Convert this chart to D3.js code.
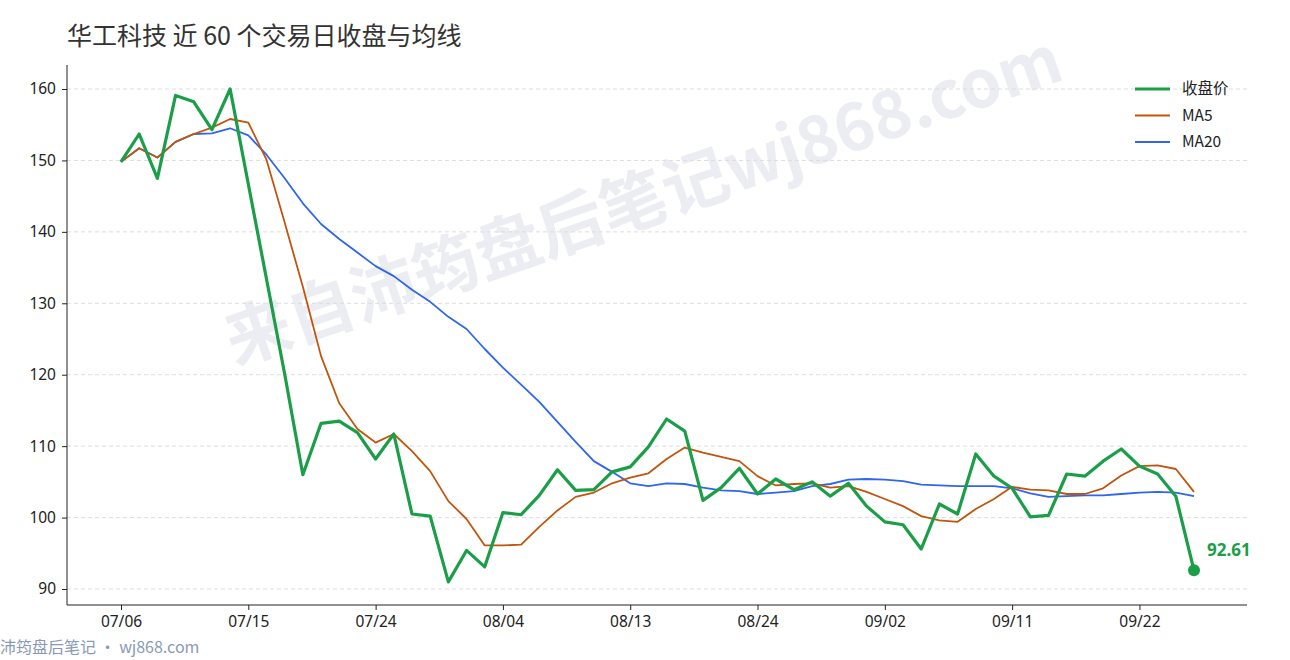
<!DOCTYPE html>
<html><head><meta charset="utf-8">
<script src="https://cdn.jsdelivr.net/npm/d3@7"></script>
<style>body{margin:0;background:#fff;font-family:"Noto Sans CJK SC","Noto Sans",sans-serif}</style>
</head><body><svg id="c" width="1290" height="660"></svg>
<script>
// category labels (one per trading day)
const dates = ["07/06","07/07","07/08","07/10","07/11","07/13","07/14","07/15",
  "07/16","07/17","07/18","07/20","07/21","07/22","07/24",
  "07/25","07/27","07/28","07/30","07/31","08/02","08/04",
  "08/05","08/06","08/08","08/09","08/10","08/12","08/13",
  "08/14","08/16","08/17","08/19","08/20","08/22","08/24",
  "08/25","08/26","08/27","08/29","08/30","08/31","09/02",
  "09/03","09/04","09/05","09/07","09/08","09/09","09/11",
  "09/12","09/14","09/15","09/17","09/18","09/19","09/22",
  "09/23","09/24","09/25"];
const closes = [149.8,153.7,147.5,159.1,158.2,154.3,160.0,146.7,133.4,120.1,
  106.0,113.2,113.5,111.9,108.2,111.7,100.5,100.2,91.0,95.4,
  93.1,100.7,100.4,103.1,106.7,103.8,103.9,106.4,107.1,109.9,
  113.8,112.1,102.4,104.2,106.9,103.3,105.4,103.9,105.0,103.0,
  104.8,101.6,99.4,99.0,95.6,101.9,100.5,108.9,105.8,104.1,
  100.1,100.3,106.1,105.8,107.9,109.6,107.2,106.1,103.0,92.61];
const ma5 = [149.8,151.7,150.4,152.6,153.7,154.6,155.8,155.3,150.1,141.3,
  132.3,122.6,116.0,112.4,110.5,111.7,109.3,106.5,102.3,99.8,
  96.1,96.1,96.2,98.7,101.0,102.9,103.5,104.8,105.6,106.2,
  108.2,109.8,109.1,108.5,107.9,105.8,104.5,104.7,104.8,104.2,
  104.4,103.6,102.6,101.6,100.2,99.6,99.4,101.2,102.6,104.3,
  103.9,103.8,103.3,103.3,104.1,105.9,107.2,107.3,106.8,103.6];
const ma20 = [149.8,151.7,150.4,152.6,153.7,153.8,154.5,153.5,150.8,147.5,
  144.0,141.1,139.0,137.1,135.2,133.8,131.9,130.2,128.1,126.4,
  123.6,121.0,118.6,116.2,113.4,110.6,107.9,106.4,104.8,104.4,
  104.8,104.7,104.2,103.8,103.7,103.3,103.5,103.7,104.4,104.7,
  105.3,105.4,105.3,105.1,104.6,104.5,104.4,104.4,104.4,104.1,
  103.4,102.9,103.0,103.1,103.1,103.3,103.5,103.6,103.5,103.0];
const yTicks = [90,100,110,120,130,140,150,160];
const tickIdx = [0,7,14,21,28,35,42,49,56];

const svg = d3.select("#c");
const pLeft = 67, pRight = 1247, pTop = 65, pBottom = 605;
const x = d3.scaleLinear().domain([0, dates.length - 1]).range([121, 1194]);
const y = d3.scaleLinear().domain([90, 160]).range([589, 89]);

// watermark
svg.append("text").attr("transform", "translate(645,205) rotate(-19)")
  .attr("text-anchor", "middle").attr("dominant-baseline", "middle")
  .style("font-size", "66px").style("font-weight", "bold").style("fill", "#e6e8ee")
  .style("opacity", 0.75).text("来自沛筠盘后笔记wj868.com");

// grid
svg.selectAll("line.grid").data(yTicks).enter().append("line")
  .attr("x1", pLeft).attr("x2", pRight).attr("y1", d => y(d)).attr("y2", d => y(d))
  .style("stroke", "#ddd").style("stroke-dasharray", "4,3");

// axes
const ya = svg.append("g").attr("transform", `translate(${pLeft},0)`)
  .call(d3.axisLeft(y).tickValues(yTicks).tickSize(5).tickPadding(6));
ya.select(".domain").attr("d", `M0,${pTop}V${pBottom}`);
const xa = svg.append("g").attr("transform", `translate(0,${pBottom})`)
  .call(d3.axisBottom(x).tickValues(tickIdx).tickFormat(i => dates[i]).tickSize(5).tickPadding(6));
xa.select(".domain").attr("d", `M${pLeft},0H${pRight}`);
svg.selectAll(".tick text").style("font-size", "15.5px").style("fill", "#222")
  .style("font-family", "'Noto Sans','Noto Sans CJK SC',sans-serif");
svg.selectAll(".domain, .tick line").style("stroke", "#222");

// lines
const line = d3.line().x((d, i) => x(i)).y(d => y(d));
const series = [
  { name: "收盘价", data: closes, color: "#1a9e48", w: 3.2 },
  { name: "MA5", data: ma5, color: "#c0560e", w: 1.8 },
  { name: "MA20", data: ma20, color: "#2f66ea", w: 1.8 },
];
[series[2], series[1], series[0]].forEach(s => {
  svg.append("path").datum(s.data).attr("d", line)
    .style("fill", "none").style("stroke", s.color).style("stroke-width", s.w)
    .style("stroke-linejoin", "round");
});

// last point
const last = closes.length - 1;
svg.append("circle").attr("cx", x(last)).attr("cy", y(closes[last])).attr("r", 6).style("fill", "#1a9e48");
svg.append("text").attr("x", x(last) + 13).attr("y", y(closes[last]) - 14)
  .style("font-size", "17px").style("font-weight", "bold").style("fill", "#1a9e48")
  .style("font-family", "'Noto Sans',sans-serif").text(closes[last].toFixed(2));

// legend
series.forEach((s, i) => {
  const ly = 89 + i * 26.5;
  svg.append("line").attr("x1", 1135).attr("x2", 1170).attr("y1", ly).attr("y2", ly)
    .style("stroke", s.color).style("stroke-width", s.w);
  svg.append("text").attr("x", 1182).attr("y", ly + 5).style("font-size", "15.5px")
    .style("fill", "#222").text(s.name);
});

// title and footer
svg.append("text").attr("x", 67).attr("y", 45).style("font-size", "25px").style("fill", "#333")
  .text("华工科技 近 60 个交易日收盘与均线");
svg.append("text").attr("x", 0).attr("y", 653).style("font-size", "16px").style("fill", "#8a9ab5")
  .text("沛筠盘后笔记 · wj868.com");
</script></body></html>
